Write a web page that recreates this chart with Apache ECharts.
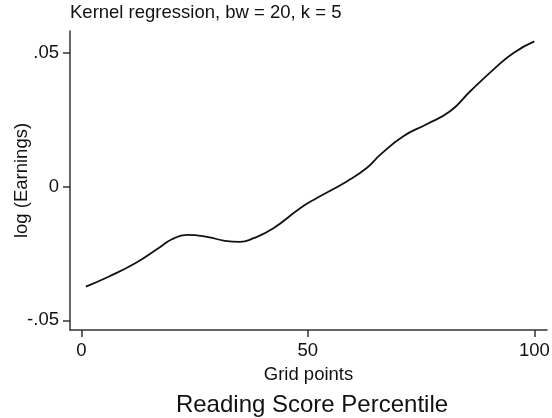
<!DOCTYPE html>
<html>
<head>
<meta charset="utf-8">
<script src="https://cdn.jsdelivr.net/npm/echarts@6/dist/echarts.min.js"></script>
<style>
  html, body { margin: 0; padding: 0; background: #fff; }
  #chart { width: 552px; height: 418px; }
</style>
</head>
<body>
<div id="chart"></div>
<script>
// grid points (reading score percentile) and smoothed log earnings
var gridPts = [1, 6, 12, 17, 20, 23.3, 28, 31.7, 35, 38, 42.4, 48.3, 52, 58.6, 63, 66, 71, 76, 81.4, 85.8, 90.9, 95.4, 100];
var logEarn = [-0.0374, -0.0337, -0.0286, -0.0231, -0.0197, -0.0181, -0.0189, -0.0203, -0.0207, -0.0193, -0.0156,
    -0.0081, -0.0043, 0.0019, 0.0069, 0.0119, 0.0187, 0.0231, 0.0281, 0.0355, 0.0436, 0.0499, 0.0542];
var xTicks = [0, 50, 100];
var yTicks = [-0.05, 0, 0.05];

var font = 'Liberation Sans, Arial, Helvetica, sans-serif';
var axisCol = '#333';

var pts = [];
for (var i = 0; i < gridPts.length; i++) {
    pts.push([gridPts[i], logEarn[i]]);
}

var fmtY = function (v) {
    if (Math.abs(v) < 1e-9) return '0';
    var s = Math.abs(v).toFixed(2).replace(/^0/, '');
    return (v < 0 ? '-' : '') + s;
};

var chart = echarts.init(document.getElementById('chart'));
chart.setOption({
    animation: false,
    backgroundColor: '#fff',
    title: [
        {
            text: 'Kernel regression, bw = 20, k = 5',
            left: 70, top: 3, padding: 0,
            textStyle: {fontFamily: font, fontSize: 18.5, fontWeight: 'normal', color: '#111'}
        },
        {
            text: 'Reading Score Percentile',
            left: 312, top: 393, padding: 0, textAlign: 'center',
            textStyle: {fontFamily: font, fontSize: 24, fontWeight: 'normal', color: '#111'}
        }
    ],
    grid: {left: 70, right: 5, top: 31, bottom: 88, outerBoundsMode: 'none', containLabel: false},
    xAxis: {
        type: 'value',
        min: -2.5, max: 102.8,
        name: 'Grid points',
        nameLocation: 'middle',
        nameGap: 35,
        nameMoveOverlap: false,
        nameTextStyle: {fontFamily: font, fontSize: 18.5, color: '#111'},
        axisLine: {onZero: false, lineStyle: {color: axisCol, width: 1.5}},
        axisTick: {show: true, length: 7, customValues: xTicks, lineStyle: {color: axisCol, width: 1.5}},
        axisLabel: {customValues: xTicks, margin: 11, fontFamily: font, fontSize: 18.5, color: '#111'},
        splitLine: {show: false}
    },
    yAxis: {
        type: 'value',
        min: -0.0536, max: 0.0581,
        name: 'log (Earnings)',
        nameLocation: 'middle',
        nameRotate: 90,
        nameGap: 39,
        nameMoveOverlap: false,
        nameTextStyle: {fontFamily: font, fontSize: 18.5, color: '#111'},
        axisLine: {show: true, onZero: false, lineStyle: {color: axisCol, width: 1.5}},
        axisTick: {show: true, length: 7, customValues: yTicks, lineStyle: {color: axisCol, width: 1.5}},
        axisLabel: {customValues: yTicks, margin: 11, formatter: fmtY, fontFamily: font, fontSize: 18.5, color: '#111'},
        splitLine: {show: false}
    },
    series: [{
        type: 'line',
        data: pts,
        smooth: true,
        showSymbol: false,
        lineStyle: {color: '#111', width: 1.8}
    }]
});
</script>
</body>
</html>
